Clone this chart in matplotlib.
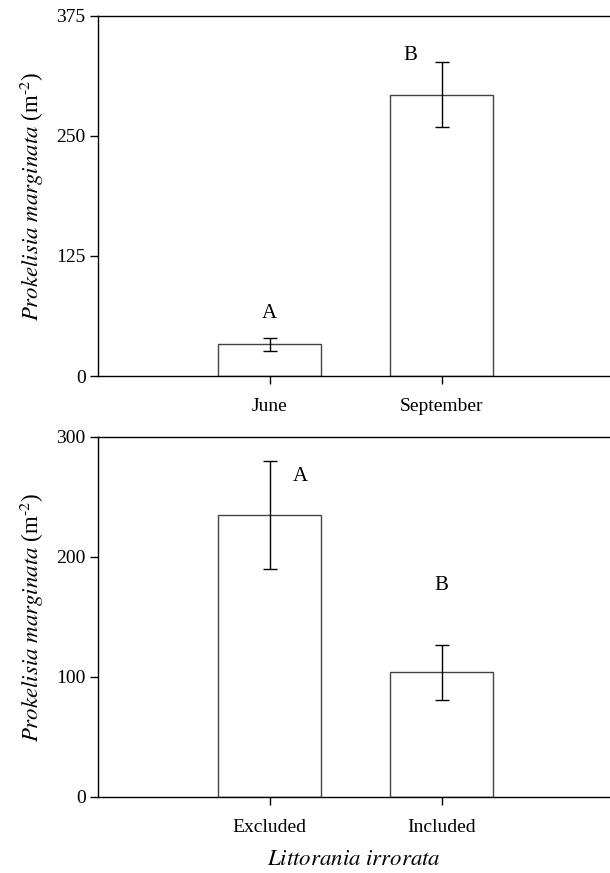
import matplotlib.pyplot as plt

plt.rcParams['font.family'] = ['Liberation Serif', 'DejaVu Serif']
plt.rcParams['mathtext.fontset'] = 'stix'

# panel 1: sampling month
meses = ['June', 'September']
densidad_mes = [33, 293]
error_mes = [7, 34]
letras_mes = ['A', 'B']

# panel 2: Littoraria treatment
tratamientos = ['Excluded', 'Included']
densidad_trat = [235, 104]
error_trat = [45, 23]
letras_trat = ['A', 'B']

fig = plt.figure(figsize=(6.1, 8.73), dpi=100)
ax1 = fig.add_axes([0.1607, 0.5693, 0.8393, 0.4124])
ax2 = fig.add_axes([0.1607, 0.0871, 0.8393, 0.4124])

ylabel = r'$\mathit{Prokelisia\ marginata}$ (m$^{\text{-2}}$)'


def panel(ax, cats, vals, errs, ymax, yticks, letras, letra_pos):
    x = list(range(len(cats)))
    ax.bar(x, vals, width=0.6, color='white', edgecolor='#444444', linewidth=1.0, zorder=2)
    ax.errorbar(x, vals, yerr=errs, fmt='none', ecolor='black', elinewidth=1.0,
                capsize=5, capthick=1.0, zorder=3)
    for (lx, ly), t in zip(letra_pos, letras):
        ax.text(lx, ly, t, ha='center', va='center', fontsize=15)
    ax.set_xlim(-1.0, 1.98)
    ax.set_ylim(0, ymax)
    ax.set_yticks(yticks)
    ax.set_xticks(x)
    ax.set_xticklabels(cats)
    ax.tick_params(axis='both', direction='out', length=6, width=1, labelsize=14)
    ax.tick_params(axis='x', pad=10)
    ax.tick_params(axis='y', pad=3)
    ax.spines['right'].set_visible(False)
    for s in ['left', 'top', 'bottom']:
        ax.spines[s].set_linewidth(1.0)
    ax.set_ylabel(ylabel, fontsize=16.5, labelpad=7)


panel(ax1, meses, densidad_mes, error_mes, 375, [0, 125, 250, 375], letras_mes,
      [(0, 65), (0.82, 334)])
panel(ax2, tratamientos, densidad_trat, error_trat, 300, [0, 100, 200, 300], letras_trat,
      [(0.18, 267), (1, 176)])
ax2.set_xlabel(r'$\mathit{Littorania\ irrorata}$', fontsize=16.5, labelpad=9)

fig.savefig('out.png', dpi=100)
